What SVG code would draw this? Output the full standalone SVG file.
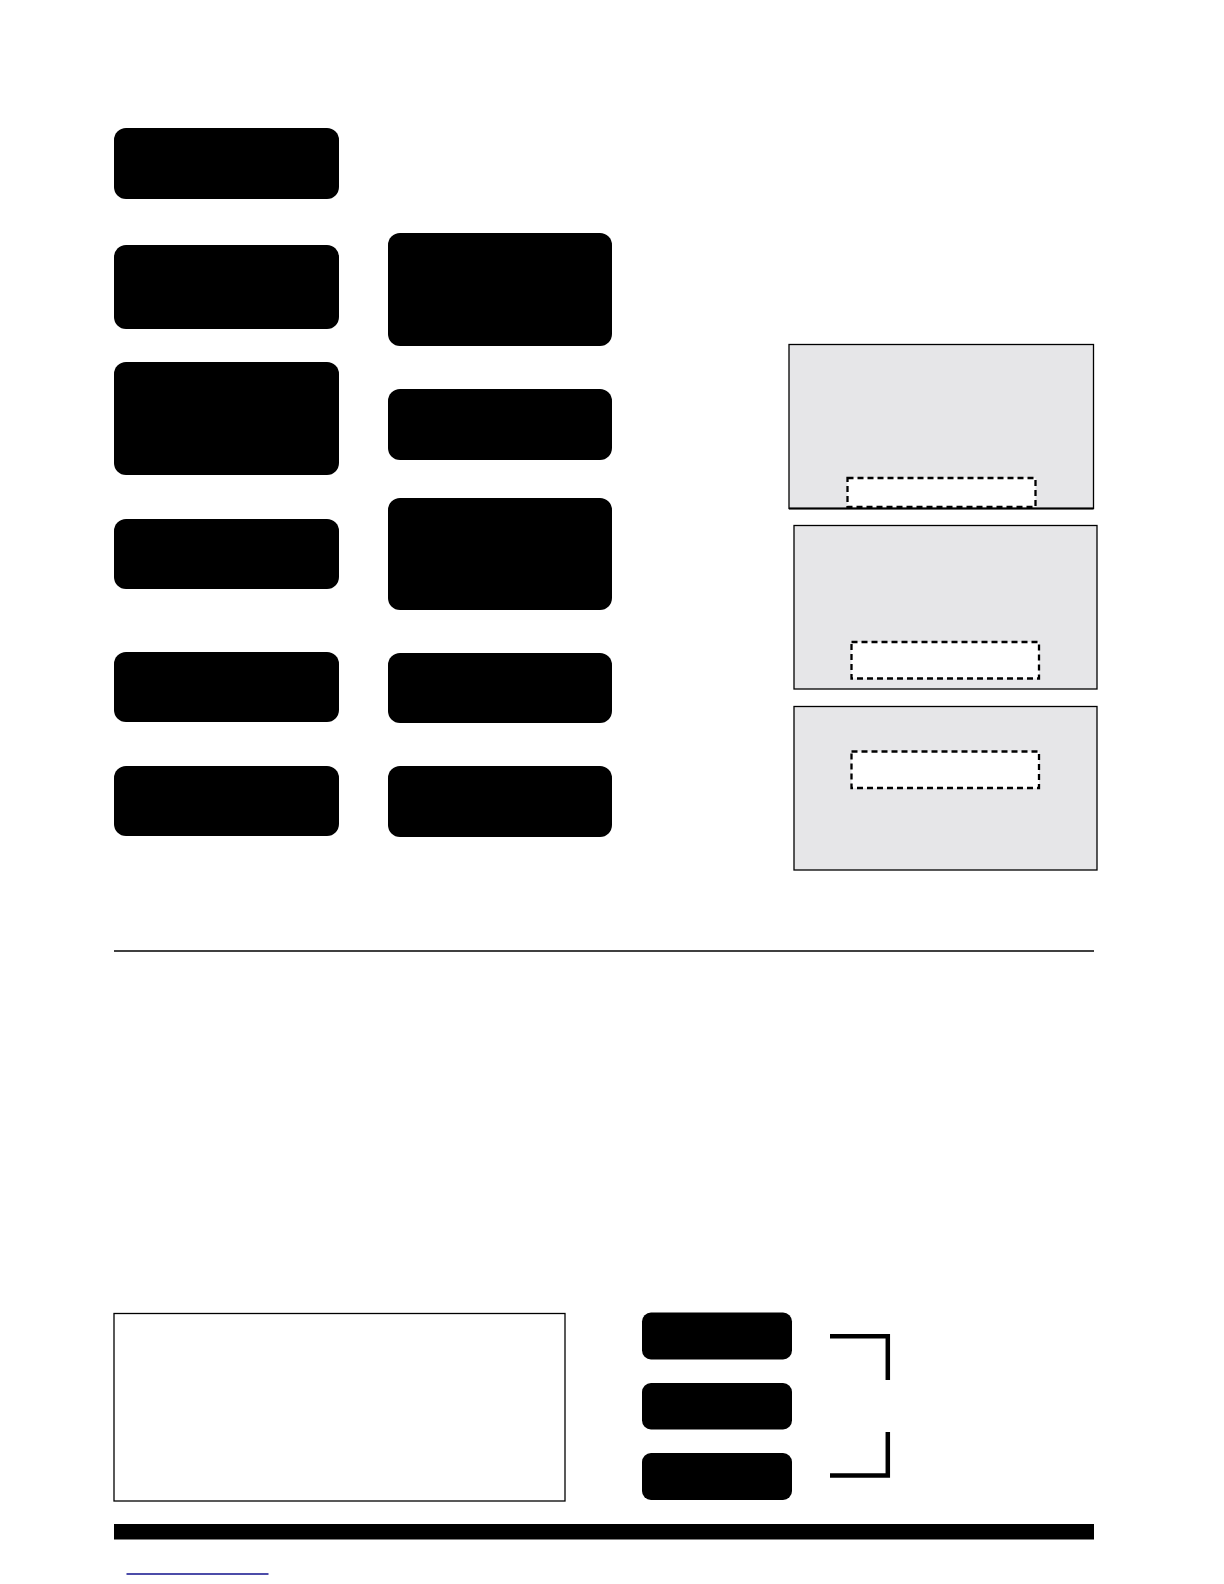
<svg xmlns="http://www.w3.org/2000/svg" width="1224" height="1584" viewBox="0 0 1224 1584">
<style>
.blk{fill:#000;}
.panel{fill:#e6e6e8;stroke:#000;stroke-width:1.3;}
.dash{fill:#fff;stroke:#000;stroke-width:2.3;stroke-dasharray:6 4;}
.brk{fill:none;stroke:#000;stroke-width:4.5;}
</style>
<rect width="1224" height="1584" fill="#fff"/>
<g id="n1"><rect class="blk" x="114" y="128" width="225" height="71" rx="12"/></g>
<g id="n2"><rect class="blk" x="114" y="245" width="225" height="84" rx="12"/></g>
<g id="n3"><rect class="blk" x="114" y="362" width="225" height="113" rx="12"/></g>
<g id="n4"><rect class="blk" x="114" y="519" width="225" height="70" rx="12"/></g>
<g id="n5"><rect class="blk" x="114" y="652" width="225" height="70" rx="12"/></g>
<g id="n6"><rect class="blk" x="114" y="766" width="225" height="70" rx="12"/></g>
<g id="n7"><rect class="blk" x="388" y="233" width="224" height="113" rx="12"/></g>
<g id="n8"><rect class="blk" x="388" y="389" width="224" height="71" rx="12"/></g>
<g id="n9"><rect class="blk" x="388" y="498" width="224" height="112" rx="12"/></g>
<g id="n10"><rect class="blk" x="388" y="653" width="224" height="70" rx="12"/></g>
<g id="n11"><rect class="blk" x="388" y="766" width="224" height="71" rx="12"/></g>
<g id="p1"><rect class="panel" x="789" y="344.5" width="304.5" height="164"/><line x1="789" y1="508.5" x2="1093.5" y2="508.5" stroke="#000" stroke-width="2.2"/><rect class="dash" x="847.5" y="478" width="188" height="29"/></g>
<g id="p2"><rect class="panel" x="794" y="525.5" width="303" height="163.5"/><rect class="dash" x="851.5" y="642" width="187.5" height="36.5"/></g>
<g id="p3"><rect class="panel" x="794" y="706.5" width="303" height="163.5"/><rect class="dash" x="851.5" y="751.5" width="187.5" height="36.5"/></g>
<line x1="114" y1="951" x2="1094" y2="951" stroke="#000" stroke-width="1.5"/>
<g id="legend"><rect x="114" y="1313.5" width="451" height="187.5" fill="#fff" stroke="#000" stroke-width="1.3"/></g>
<g id="b1"><rect class="blk" x="642" y="1312.5" width="150" height="47" rx="9"/></g>
<g id="b2"><rect class="blk" x="642" y="1383" width="150" height="46.5" rx="9"/></g>
<g id="b3"><rect class="blk" x="642" y="1453" width="150" height="47" rx="9"/></g>
<g id="connectors">
<path class="brk" d="M830,1336.3 H887.8 V1380"/>
<path class="brk" d="M887.8,1432 V1475.5 H830"/>
</g>
<rect class="blk" x="114" y="1524" width="980" height="15.5"/>
<line x1="126.5" y1="1574" x2="268.5" y2="1574" stroke="#10108c" stroke-width="1.4"/>
</svg>
